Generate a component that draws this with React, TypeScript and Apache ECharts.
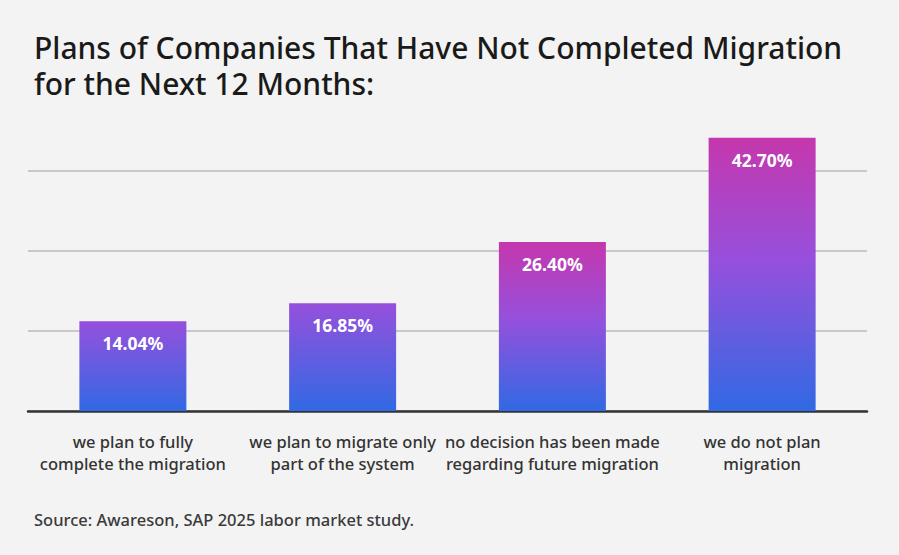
import React, { useEffect, useRef } from "react";
import * as echarts from "echarts";

const categories = [
  "we plan to fully\ncomplete the migration",
  "we plan to migrate only\npart of the system",
  "no decision has been made\nregarding future migration",
  "we do not plan\nmigration",
];
const values = [14.04, 16.85, 26.4, 42.7];
const titleLines = ["Plans of Companies That Have Not Completed Migration", "for the Next 12 Months:"];
const sourceText = "Source: Awareson, SAP 2025 labor market study.";

const BLUE = "#3169e4";
const PURPLE = "#9650dc";
const MAGENTA = "#c537ad";

function gradFor(v: number) {
  const stops =
    v > 20
      ? [
          { offset: 0, color: MAGENTA },
          { offset: 0.45, color: PURPLE },
          { offset: 1, color: BLUE },
        ]
      : [
          { offset: 0, color: PURPLE },
          { offset: 1, color: BLUE },
        ];
  return new echarts.graphic.LinearGradient(0, 0, 0, 1, stops);
}

export default function App() {
  const ref = useRef<HTMLDivElement>(null);
  useEffect(() => {
    if (!ref.current) return;
    const chart = echarts.init(ref.current, null, { renderer: "svg" });
    const font = "'Noto Sans', 'Open Sans', sans-serif";
    chart.setOption({
      animation: false,
      backgroundColor: "#f3f3f3",
      textStyle: { fontFamily: font },
      title: titleLines.map((t, i) => ({
        text: t,
        left: 34,
        top: 30 + i * 36,
        padding: 0,
        textStyle: {
          fontFamily: font,
          fontSize: 30,
          fontWeight: 500,
          color: "#1a1a1a",
          lineHeight: 34,
        },
      })),
      graphic: [
        {
          type: "text",
          left: 34,
          top: 511,
          style: {
            text: sourceText,
            fontFamily: font,
            fontSize: 16.5,
            fontWeight: 500,
            fill: "#3a3a3a",
          },
        },
      ],
      grid: { left: 28, right: 32, top: 91, bottom: 144 },
      xAxis: {
        type: "category",
        data: categories,
        axisLine: { lineStyle: { color: "#333", width: 2.5 } },
        axisTick: { show: false },
        axisLabel: {
          interval: 0,
          margin: 19,
          fontSize: 16.5,
          fontWeight: 500,
          lineHeight: 22,
          color: "#333",
          fontFamily: font,
        },
      },
      yAxis: {
        type: "value",
        min: 0,
        max: 50,
        interval: 12.5,
        axisLabel: { show: false },
        axisLine: { show: false },
        axisTick: { show: false },
        splitLine: {
          lineStyle: {
            color: ["#c8c8c8", "#c8c8c8", "#c8c8c8", "#c8c8c8", "rgba(0,0,0,0)"],
            width: 2,
          },
        },
      },
      series: [
        {
          type: "bar",
          barWidth: 107,
          data: values.map((v) => ({ value: v, itemStyle: { color: gradFor(v) } })),
          label: {
            show: true,
            position: "insideTop",
            distance: 13,
            formatter: (p: any) => p.value.toFixed(2) + "%",
            color: "#ffffff",
            fontSize: 17.5,
            fontWeight: "bold",
            fontFamily: font,
          },
        },
      ],
    });
    return () => chart.dispose();
  }, []);
  return <div ref={ref} style={{ width: 899, height: 555, position: "absolute", left: 0, top: 0 }} />;
}
